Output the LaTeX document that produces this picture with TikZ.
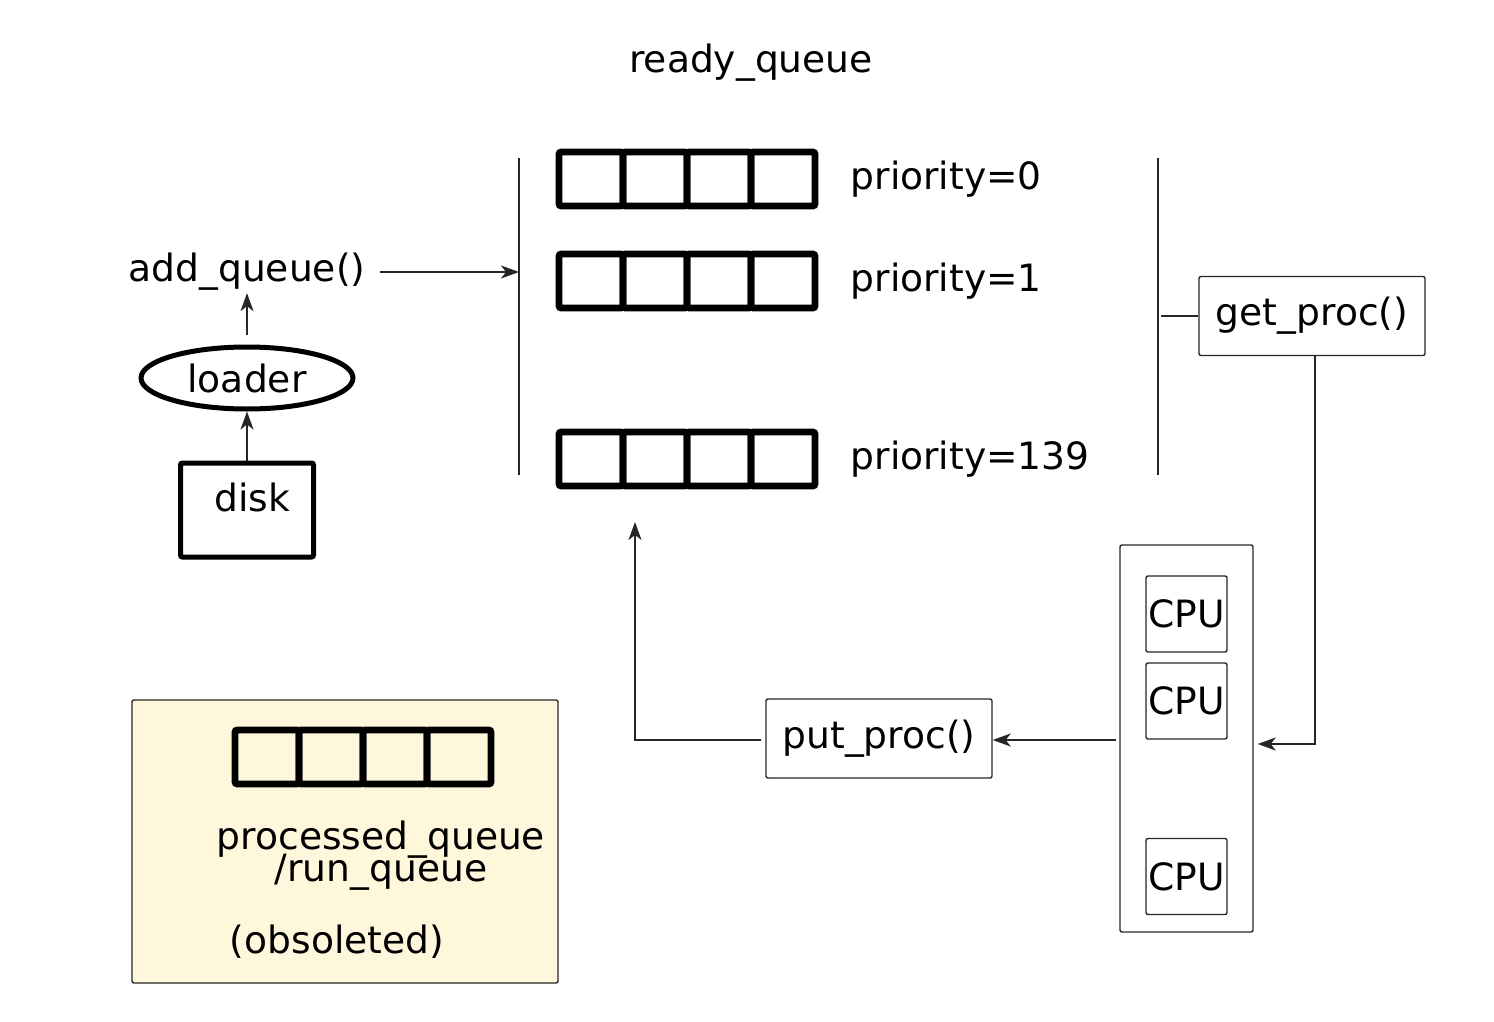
\documentclass[tikz,border=0pt]{standalone}
\usepackage{fontspec}
\setmainfont{DejaVu Sans}
\usetikzlibrary{positioning,arrows.meta,shapes.geometric}
\definecolor{oldyellow}{RGB}{255,247,219}
\newcommand{\colorline}{black!85}
\newcommand{\colorold}{oldyellow}
\tikzset{%
  arrow/.style = { -{Stealth[length=9pt, width=6.5pt, inset=2.5pt]}, line width = 0.7pt, draw = \colorline },
  thin line/.style = { line width = 0.7pt, draw = \colorline },
  cell/.style  = { draw, line width = 3.3pt, rounded corners = 1pt, inner sep = 0pt,
    minimum width = 32pt, minimum height = 27pt },
  fbox/.style  = { draw = \colorline, line width = 0.7pt, rounded corners = 1pt, inner sep = 1pt,
    minimum width = 113pt, minimum height = 39.5pt },
  cpubox/.style = { fbox, minimum width = 40.5pt, minimum height = 38pt },
  txt/.style   = { inner sep = 1pt },
}

\begin{document}
\begin{tikzpicture}[x=0.5pt, y=-0.5pt, font=\fontsize{18.8}{22}\selectfont]
    \useasboundingbox (0,0) rectangle (1494,1022);
    % ready queue ---------------------------------------------------------------------------------
    \node(rq) [txt] at (751,63) {ready\_queue};
    \foreach \r/\y in {0/179, 1/281, 139/459} {
      \foreach \i in {1,...,4}
        \node(q\r-\i) [cell] at (527+64*\i,\y) {};
      \node(p\r) [txt, anchor = west, right = 15pt of q\r-4] {priority=\r};
    }
    % bars on both sides
    \coordinate(lb1) at (519,158);
    \coordinate(lb2) at (519,475);
    \coordinate(rb1) at (1158,158);
    \coordinate(rb2) at (1158,475);
    \draw[thin line] (lb1) -- (lb2);
    \draw[thin line] (rb1) -- (rb2);
    \coordinate(qin)  at (519,272);
    \coordinate(qout) at (1161,316);
    \coordinate(ret)  at (635,522);
    % loading -------------------------------------------------------------------------------------
    \node(aq) [txt] at (247,272) {add\_queue()};
    \node(ld) [ellipse, draw, line width = 2.5pt, inner sep = 1pt,
      minimum width = 106pt, minimum height = 31pt] at (247,378) {loader};
    \node(dk) [draw, line width = 2.5pt, rounded corners = 1pt, inner sep = 1pt,
      minimum width = 66.5pt, minimum height = 47pt, text height = 14pt, text depth = 12.5pt]
      at (247,510) {\hspace{5pt}disk};
    % processors ----------------------------------------------------------------------------------
    \node(gp) [fbox] at (1312,316) {get\_proc()};
    \node(cpus) [fbox, minimum width = 66.5pt, minimum height = 193.5pt] at (1186.5,738.5) {};
    \node(c1) [cpubox] at (1186.5,614)   {CPU};
    \node(c2) [cpubox] at (1186.5,701)   {CPU};
    \node(c3) [cpubox] at (1186.5,876.5) {CPU};
    \node(pp) [fbox] at (879,738.5) {put\_proc()};
    % old queue -----------------------------------------------------------------------------------
    \node(old) [draw = \colorline, fill = \colorold, line width = 0.7pt, rounded corners = 1pt,
      minimum width = 213pt, minimum height = 141.5pt] at (345,841.5) {};
    \foreach \i in {1,...,4}
      \node(qp-\i) [cell] at (203+64*\i,757) {};
    \node(pq) [txt, align = center,
      font = {\fontsize{18.8}{16}\selectfont\lineskiplimit=-100pt}] at (381,856)
      {processed\_queue\\/run\_queue};
    \node(obs) [txt] at (337,942) {(obsoleted)};
    % arrows --------------------------------------------------------------------------------------
    \draw[arrow, shorten <= 6pt] (aq.east |- qin) -- (qin);
    \draw[arrow, shorten <= 5pt] (ld) -- (aq);
    \draw[arrow] (dk) -- (ld);
    \draw[thin line] (qout) -- (gp.west);
    \draw[arrow] ([xshift = 1.5pt]gp.south) |- ([yshift = -2.75pt, xshift = 2pt]cpus.east);
    \draw[arrow, shorten <= 1.5pt] ([yshift = -0.75pt]cpus.west) -- ([yshift = -0.75pt]pp.east);
    \draw[arrow, shorten <= 2pt] ([yshift = -0.75pt]pp.west) -| (ret);
  \end{tikzpicture}
\end{document}
